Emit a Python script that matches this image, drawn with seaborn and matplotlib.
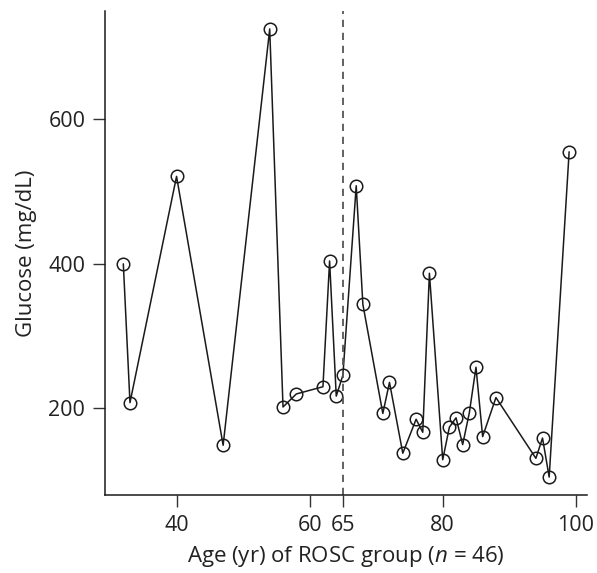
import pandas as pd
import matplotlib.pyplot as plt
import seaborn as sns

# ages (yr) and glucose (mg/dL)
age = [32, 33, 40, 47, 54, 56, 58, 62, 63, 64, 65, 67, 68, 71, 72, 74,
       76, 77, 78, 80, 81, 82, 83, 84, 85, 86, 88, 94, 95, 96, 99]
glucose = [400, 208, 521, 149, 725, 202, 220, 230, 404, 217, 246, 508, 344, 193, 236, 138,
           185, 167, 387, 129, 174, 187, 150, 194, 257, 161, 215, 131, 159, 105, 555]
x_ticks = [40, 60, 65, 80, 100]
y_ticks = [200, 400, 600]
cutoff = 65

data = pd.DataFrame({'Age': age, 'Glucose': glucose})

sns.set_style('ticks')
plt.rcParams['font.family'] = ['Open Sans', 'DejaVu Sans']
plt.rcParams['mathtext.fontset'] = 'custom'
plt.rcParams['mathtext.it'] = 'Open Sans:italic'
plt.rcParams['mathtext.rm'] = 'Open Sans'

fig = plt.figure(figsize=(5.97, 5.73), dpi=100)
ax = fig.add_axes([0.1767, 0.1361, 0.8065, 0.8447])

sns.lineplot(x='Age', y='Glucose', data=data, ax=ax, color='#1a1a1a', linewidth=1.1,
             marker='o', markersize=9, markerfacecolor='none', markeredgecolor='#1a1a1a',
             markeredgewidth=1.1, sort=False, estimator=None)

ax.axvline(cutoff, color='#555555', linestyle=(0, (4, 3.2)), linewidth=1.3)

# R-like 4% padding
xr = max(age) - min(age)
yr = max(glucose) - min(glucose)
ax.set_xlim(min(age) - 0.04 * xr, max(age) + 0.04 * xr)
ax.set_ylim(min(glucose) - 0.04 * yr, max(glucose) + 0.04 * yr)

ax.set_xticks(x_ticks)
ax.set_yticks(y_ticks)
ax.tick_params(axis='both', length=8.5, width=1, color='#333333', labelsize=15.5,
               labelcolor='#222222', pad=6)
for s in ['top', 'right']:
    ax.spines[s].set_visible(False)
for s in ['left', 'bottom']:
    ax.spines[s].set_linewidth(1.1)
    ax.spines[s].set_color('#1a1a1a')

ax.set_xlabel('Age (yr) of ROSC group ($n$ = 46)', fontsize=16, color='#222222', labelpad=6)
ax.set_ylabel('Glucose (mg/dL)', fontsize=16, color='#222222', labelpad=8)

plt.savefig('out.png', dpi=100)
